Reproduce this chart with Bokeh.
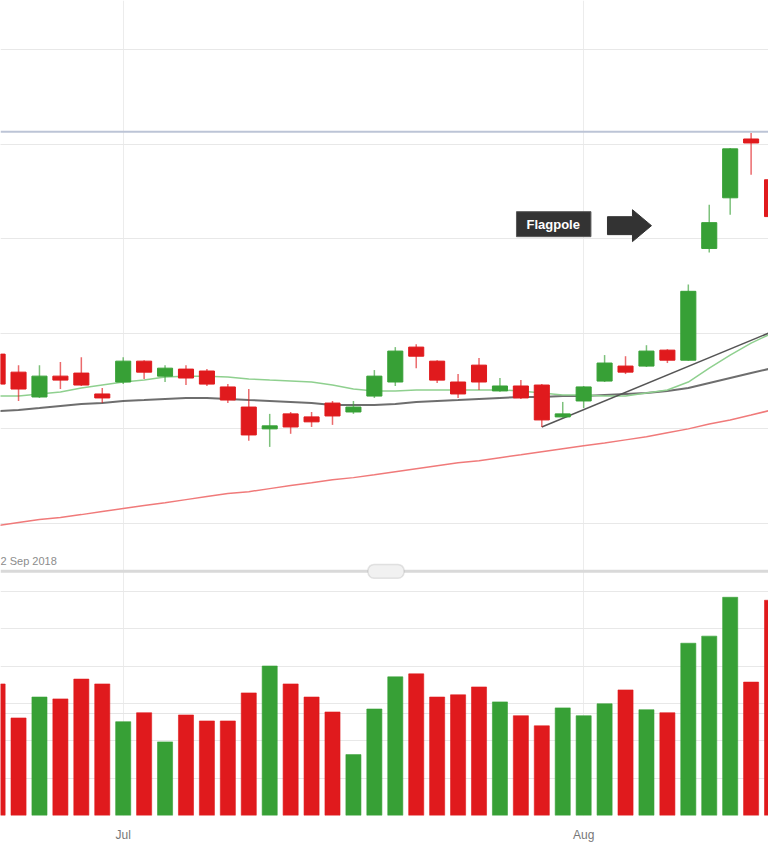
from bokeh.plotting import figure
from bokeh.models import Range1d, FixedTicker, Grid, Span, BoxAnnotation, Label, ColumnDataSource
from bokeh.embed import file_html
from bokeh.resources import INLINE
from bokeh.core.properties import value

# ---------------- data ----------------
dates = ["2018-06-22", "2018-06-25", "2018-06-26", "2018-06-27", "2018-06-28", "2018-06-29",
         "2018-07-02", "2018-07-03", "2018-07-04", "2018-07-05", "2018-07-06", "2018-07-09",
         "2018-07-10", "2018-07-11", "2018-07-12", "2018-07-13", "2018-07-16", "2018-07-17",
         "2018-07-18", "2018-07-19", "2018-07-20", "2018-07-23", "2018-07-24", "2018-07-25",
         "2018-07-26", "2018-07-27", "2018-07-30", "2018-07-31", "2018-08-01", "2018-08-02",
         "2018-08-03", "2018-08-06", "2018-08-07", "2018-08-08", "2018-08-09", "2018-08-10",
         "2018-08-13", "2018-08-14"]
opens = [1589.3, 1579.8, 1566.7, 1577.7, 1579.3, 1568.3, 1574.6, 1585.6, 1577.7, 1581.4,
         1580.4, 1572.0, 1561.4, 1549.9, 1557.8, 1556.2, 1563.5, 1558.8, 1567.2, 1574.6,
         1593.0, 1585.6, 1574.6, 1583.5, 1569.9, 1572.5, 1573.0, 1556.2, 1564.6, 1575.1,
         1583.0, 1583.0, 1591.4, 1586.1, 1645.0, 1671.7, 1702.7, 1681.2]
highs = [1591.9, 1583.5, 1583.5, 1585.1, 1587.7, 1571.4, 1587.7, 1586.1, 1583.5, 1583.5,
         1581.4, 1573.5, 1570.9, 1557.8, 1558.8, 1558.8, 1564.6, 1564.6, 1580.9, 1593.0,
         1594.5, 1586.1, 1578.8, 1587.2, 1576.7, 1575.6, 1573.5, 1564.1, 1572.5, 1588.8,
         1588.2, 1594.0, 1591.9, 1626.0, 1668.1, 1698.0, 1705.9, 1683.8]
lows = [1572.0, 1564.6, 1566.2, 1570.9, 1572.5, 1563.5, 1573.5, 1576.2, 1574.6, 1573.0,
        1572.5, 1563.5, 1543.6, 1540.4, 1547.3, 1550.9, 1552.0, 1557.8, 1566.2, 1572.5,
        1581.9, 1574.1, 1566.2, 1570.4, 1569.5, 1565.7, 1550.9, 1555.8, 1560.9, 1574.6,
        1578.8, 1582.5, 1584.6, 1585.8, 1642.9, 1662.8, 1683.8, 1659.1]
closes = [1573.5, 1570.9, 1577.7, 1575.6, 1573.0, 1566.2, 1585.6, 1579.8, 1581.9, 1576.7,
          1573.5, 1565.1, 1546.7, 1551.5, 1550.9, 1553.6, 1556.7, 1561.4, 1577.7, 1590.9,
          1588.2, 1575.6, 1568.3, 1574.6, 1572.5, 1566.2, 1554.6, 1557.8, 1572.0, 1584.6,
          1579.8, 1590.9, 1586.1, 1622.4, 1658.6, 1697.5, 1700.6, 1661.8]
volumes = [3.52, 2.61, 3.17, 3.12, 3.65, 3.52, 2.51, 2.75, 1.97, 2.69,
           2.53, 2.53, 3.28, 4.00, 3.52, 3.17, 2.77, 1.63, 2.85, 3.71,
           3.79, 3.17, 3.23, 3.44, 3.04, 2.67, 2.40, 2.88, 2.67, 2.99,
           3.36, 2.83, 2.75, 4.61, 4.80, 5.84, 3.57, 5.76]
ma_short = [1567.2, 1567.2, 1568.3, 1569.3, 1571.4, 1573.0, 1574.6, 1575.6, 1577.2, 1577.7,
            1577.7, 1577.2, 1576.2, 1575.6, 1575.1, 1574.6, 1573.0, 1570.9, 1569.9, 1569.9,
            1570.4, 1570.4, 1570.4, 1570.4, 1570.4, 1569.9, 1568.8, 1567.8, 1567.8, 1567.2,
            1567.2, 1568.8, 1570.4, 1574.6, 1581.9, 1588.8, 1595.1, 1600.3]
ma_mid = [1559.3, 1559.9, 1560.9, 1562.0, 1563.0, 1563.5, 1564.6, 1565.1, 1565.7, 1566.2,
          1566.2, 1565.7, 1565.1, 1564.6, 1564.1, 1563.5, 1562.5, 1562.5, 1562.5, 1563.0,
          1564.1, 1564.6, 1565.1, 1565.7, 1566.2, 1566.7, 1566.7, 1567.2, 1567.2, 1567.8,
          1568.3, 1568.8, 1569.9, 1571.4, 1574.1, 1576.7, 1579.3, 1581.9]
ma_long = [1498.9, 1500.5, 1502.1, 1503.2, 1504.7, 1506.3, 1507.9, 1509.5, 1511.0, 1512.6,
           1514.2, 1515.8, 1516.8, 1518.4, 1520.0, 1521.5, 1523.1, 1524.2, 1525.7, 1527.3,
           1528.9, 1530.5, 1532.0, 1533.1, 1534.7, 1536.2, 1537.8, 1539.4, 1541.0, 1542.5,
           1544.1, 1545.7, 1547.8, 1549.9, 1552.5, 1554.6, 1557.2, 1559.9]
trend_dates = ["2018-07-30", "2018-08-14"]
trend_prices = [1550.9, 1601.1]
resistance_price = 1706.5
price_grid = [1500, 1550, 1600, 1650, 1700, 1750]
volume_grid = [1, 2, 3, 4, 5, 6]
month_labels = {"2018-07": "Jul", "2018-08": "Aug"}
range_text = "2 Sep 2018"
flag_text = "Flagpole"

# ---------------- layout / style ----------------
W, H = 768, 844
BOTTOM = 26
first_jul = dates.index("2018-07-02")
idx = [i - first_jul for i in range(len(dates))]
X_LO, X_HI = -5.862, 30.831
Y_LO, Y_HI = 1346.1, 1775.7
V_HI = 21.81
PX_X = (X_HI - X_LO) / W             # index units per pixel
PX_Y = (Y_HI - Y_LO) / (H - BOTTOM)  # price units per pixel

RED = "#e01a1d"
GREEN = "#37a036"
FONT = "Liberation Sans"

colors = [GREEN if c >= o else RED for o, c in zip(opens, closes)]
src = ColumnDataSource(dict(
    x=idx, open=opens, high=highs, low=lows, close=closes,
    top=[max(o, c) for o, c in zip(opens, closes)],
    bottom=[min(o, c) for o, c in zip(opens, closes)],
    vol=volumes, color=colors, ma_s=ma_short, ma_m=ma_mid, ma_l=ma_long,
))

p = figure(width=W, height=H, output_backend="svg", toolbar_location=None,
           x_range=Range1d(X_LO, X_HI), y_range=Range1d(Y_LO, Y_HI),
           y_axis_location=None, min_border_left=0, min_border_right=0,
           min_border_top=0, min_border_bottom=BOTTOM)
p.outline_line_color = None
p.background_fill_color = "white"
p.border_fill_color = "white"
p.extra_y_ranges = {"vol": Range1d(0, V_HI)}

# x axis with month ticks
month_ticks, overrides = [], {}
for key, lab in month_labels.items():
    k = next(i for i, d in enumerate(dates) if d.startswith(key))
    month_ticks.append(idx[k])
    overrides[idx[k]] = lab
p.xaxis.ticker = FixedTicker(ticks=month_ticks)
p.xaxis.major_label_overrides = overrides
p.xaxis.axis_line_color = None
p.xaxis.major_tick_line_color = None
p.xaxis.minor_tick_line_color = None
p.xaxis.major_label_text_font = FONT
p.xaxis.major_label_text_font_size = "12px"
p.xaxis.major_label_text_color = "#777777"
p.xaxis.major_label_standoff = 6
p.xgrid.grid_line_color = "#ececec"
p.xgrid.grid_line_width = 1

p.add_layout(Grid(dimension=1, ticker=FixedTicker(ticks=price_grid),
                  grid_line_color="#e8e8e8", grid_line_width=1))
p.add_layout(Grid(dimension=1, ticker=FixedTicker(ticks=volume_grid), y_range_name="vol",
                  grid_line_color="#e8e8e8", grid_line_width=1))

# resistance line
p.add_layout(Span(location=resistance_price, dimension="width",
                  line_color="#bcc4d6", line_width=2))

# moving averages
p.line("x", "ma_l", source=src, line_color="#f07a7a", line_width=1.5)
p.line("x", "ma_m", source=src, line_color="#555555", line_width=2, line_alpha=0.85)
p.line("x", "ma_s", source=src, line_color="#8fd08f", line_width=1.5)
trend_x = [idx[dates.index(d)] for d in trend_dates]
p.line(trend_x, trend_prices, line_color="#555555", line_width=1.5)

# candles
p.segment(x0="x", y0="low", x1="x", y1="high", source=src, line_color="color",
          line_width=1.5, line_alpha=0.65)
p.vbar(x="x", width=0.72, top="top", bottom="bottom", source=src,
       fill_color="color", line_color="color", line_width=1)

# volume
p.vbar(x="x", width=0.72, top="vol", bottom=0, source=src, y_range_name="vol",
       fill_color="color", line_color="color", line_width=1, line_alpha=0.6)

# navigator strip
nav_price = 1500 - 48 * PX_Y
p.add_layout(Span(location=nav_price, dimension="width", line_color="#d9d9d9", line_width=3))
nav_center = (385.5 / W) * (X_HI - X_LO) + X_LO
p.add_layout(BoxAnnotation(left=nav_center - 18 * PX_X, right=nav_center + 18 * PX_X,
                           top=nav_price + 7 * PX_Y, bottom=nav_price - 7 * PX_Y,
                           fill_color="#f1f1f1", fill_alpha=1, line_color="#aaaaaa",
                           line_width=1.5, border_radius=6))
gx = [nav_center + k * 3 * PX_X for k in (-1, 0, 1)]
p.segment(x0=gx, y0=[nav_price - 3 * PX_Y] * 3, x1=gx, y1=[nav_price + 3 * PX_Y] * 3,
          line_color="#999999", line_width=1)

# range text
p.text(x=[X_LO], y=[nav_price + 10.5 * PX_Y], text=[range_text], text_font=value(FONT),
       text_font_size="11px", text_color="#8c8c8c", text_baseline="middle", text_align="left")

# flagpole annotation
flag_x = idx[dates.index("2018-07-27")] - 0.21
flag_y = 1657.8
p.add_layout(Label(x=flag_x, y=flag_y, text=flag_text, text_font=FONT,
                   text_font_size="13px", text_font_style="bold", text_color="white",
                   text_align="left", text_baseline="middle",
                   background_fill_color="#333333", border_line_color="#5a5a5a",
                   padding=(10, 11, 5, 5)))
ax0 = flag_x + 91 * PX_X
shape = [(0, -9), (25, -9), (25, -16), (44, 0), (25, 16), (25, 9), (0, 9)]
p.patch([ax0 + dx * PX_X for dx, dy in shape], [flag_y - 1.5 * PX_Y - dy * PX_Y for dx, dy in shape],
        fill_color="#333333", line_color="#333333", line_width=1)

open("out.html", "w").write(file_html(p, INLINE))
